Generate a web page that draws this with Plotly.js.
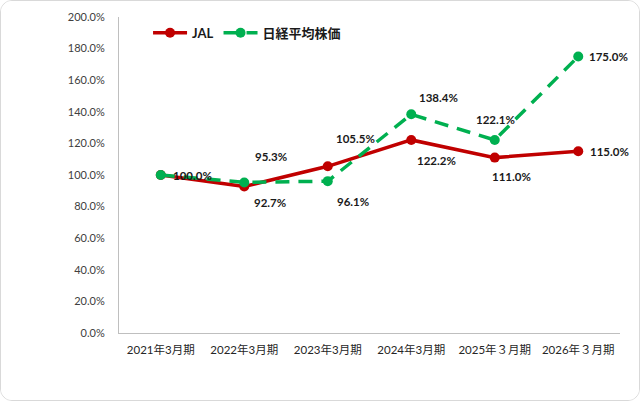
<!DOCTYPE html>
<html>
<head>
<meta charset="utf-8">
<script src="https://cdn.plot.ly/plotly-3.0.1.min.js"></script>
<style>
  html, body { margin: 0; padding: 0; background: #fff; }
  #plot {
    width: 640px; height: 401px; box-sizing: border-box;
    border: 1px solid #d9d9d9; border-radius: 12px; overflow: hidden;
  }
</style>
</head>
<body>
<div id="plot"></div>
<script>
"use strict";

// ── Data (index, 2021年3月期 = 100%) ──
const periods = ["2021年3月期", "2022年3月期", "2023年3月期",
                 "2024年3月期", "2025年３月期", "2026年３月期"];
const jal    = [100.0, 92.7, 105.5, 122.2, 111.0, 115.0];
const nikkei = [100.0, 95.3, 96.1, 138.4, 122.1, 175.0];
const yTicks = [0, 20, 40, 60, 80, 100, 120, 140, 160, 180, 200];

// Label offsets (px) per point, as Excel placed them
const jalShift    = [[32, 0], [26, -16], [28, 28], [25, -21], [17, -19], [31, 0]];
const nikkeiShift = [null, [27, 26], [25, -20], [27, 17], [1, 21], [30, 0]];

const FONT = "Lato, 'Noto Sans CJK JP', sans-serif";
const RED = "#c00000", GREEN = "#00b050";

const traces = [
    { type: "scatter", mode: "lines+markers", name: "JAL",
      x: periods, y: jal,
      line: { color: RED, width: 3.5 },
      marker: { color: RED, size: 10 } },
    { type: "scatter", mode: "lines+markers", name: "日経平均株価",
      x: periods, y: nikkei,
      line: { color: GREEN, width: 3.5, dash: "14px,9px" },
      marker: { color: GREEN, size: 10 } },
];

// Data labels — anchored on the category axis, nudged in pixels
const labelFor = (xs, ys, shifts) => ys.map((v, i) => shifts[i] ? ({
    x: xs[i], y: v, xref: "x", yref: "y",
    text: v.toFixed(1) + "%", showarrow: false,
    xshift: shifts[i][0], yshift: shifts[i][1],
    font: { family: FONT, size: 11.5, color: "#1a1a1a", weight: "bold" },
}) : null).filter(a => a);

const layout = {
    width: 638, height: 399,
    margin: { l: 118, r: 19, t: 16, b: 67 },
    paper_bgcolor: "#fff", plot_bgcolor: "#fff",
    font: { family: FONT, size: 11, color: "#404040" },
    xaxis: {
        type: "category", range: [-0.5, periods.length - 0.5],
        showgrid: false, zeroline: false,
        showline: true, linecolor: "#bfbfbf", linewidth: 1,
        ticks: "", tickfont: { size: 11.5, color: "#262626" },
        ticklabelstandoff: 6,
    },
    yaxis: {
        range: [0, 200], tickvals: yTicks,
        ticktext: yTicks.map(v => v.toFixed(1) + "%"),
        showgrid: false, zeroline: false,
        showline: true, linecolor: "#bfbfbf", linewidth: 1,
        ticks: "", ticklabelstandoff: 11,
        tickfont: { size: 11, color: "#404040" },
    },
    showlegend: true,
    legend: {
        orientation: "h", x: 0.058, y: 0.95,
        xanchor: "left", yanchor: "middle",
        bgcolor: "rgba(0,0,0,0)",
        font: { family: FONT, size: 13, color: "#1a1a1a", weight: "bold" },
        itemwidth: 34, tracegroupgap: 0,
    },
    annotations: [...labelFor(periods, jal, jalShift),
                  ...labelFor(periods, nikkei, nikkeiShift)],
};

Plotly.newPlot("plot", traces, layout, { displayModeBar: false, staticPlot: true });
</script>
</body>
</html>
